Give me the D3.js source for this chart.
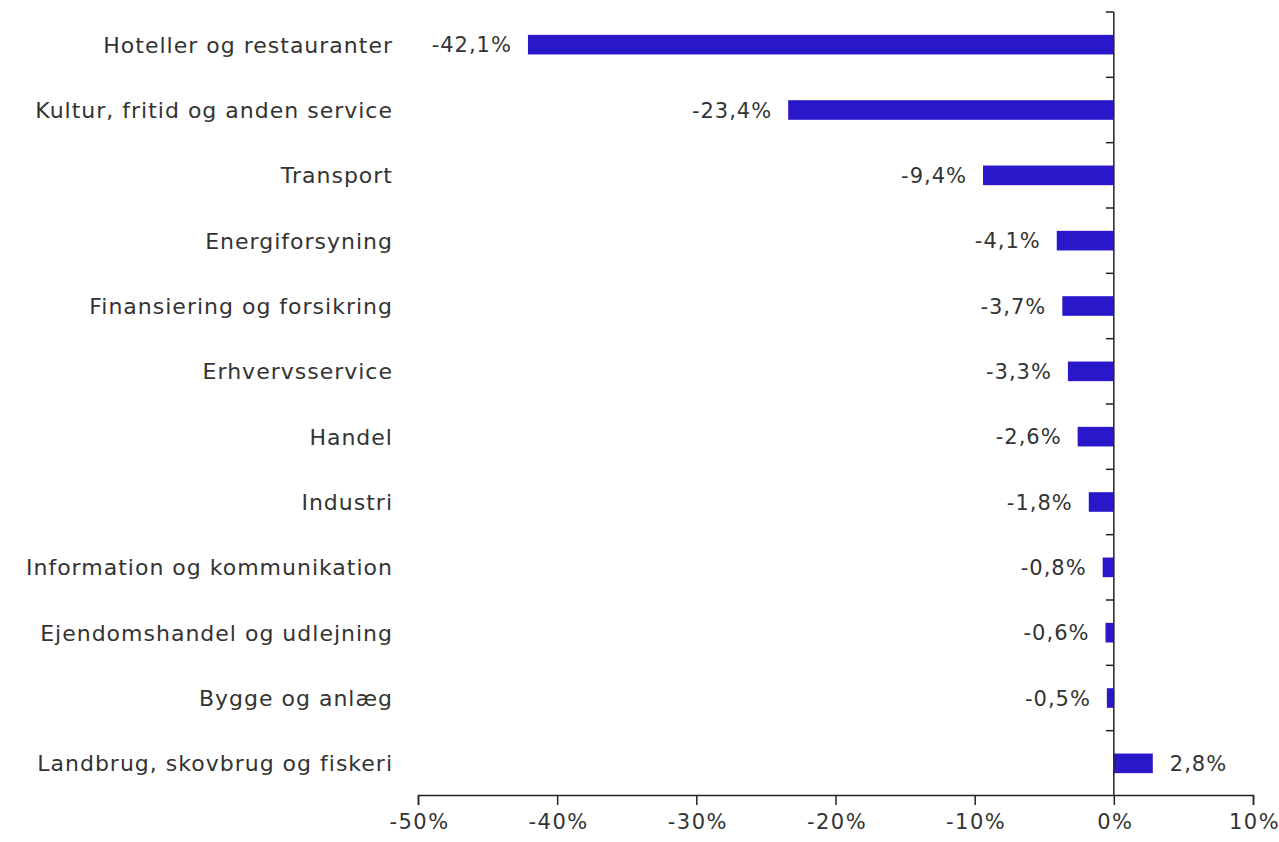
<!DOCTYPE html>
<html lang="da">
<head>
<meta charset="UTF-8">
<title>Brancher</title>
<script src="https://d3js.org/d3.v7.min.js"></script>
<style>
  body { margin: 0; background: #fff; }
  text { font-family: "DejaVu Sans", sans-serif; fill: #333; letter-spacing: 1px; }
</style>
</head>
<body>
<svg width="1279" height="842"></svg>
<script>
// data
var categories = [
  "Hoteller og restauranter",
  "Kultur, fritid og anden service",
  "Transport",
  "Energiforsyning",
  "Finansiering og forsikring",
  "Erhvervsservice",
  "Handel",
  "Industri",
  "Information og kommunikation",
  "Ejendomshandel og udlejning",
  "Bygge og anlæg",
  "Landbrug, skovbrug og fiskeri"
];
var values = [-42.1, -23.4, -9.4, -4.1, -3.7, -3.3, -2.6, -1.8, -0.8, -0.6, -0.5, 2.8];
var xTicks = [-50, -40, -30, -20, -10, 0, 10];

var svg = d3.select("svg");
// danish style: comma decimal, plain hyphen minus
var fmt = function(v) { return (v < 0 ? "-" : "") + Math.abs(v).toFixed(1).replace(".", ",") + "%"; };

var x = d3.scaleLinear().domain([-50, 10]).range([418, 1253]);
var y = d3.scaleBand().domain(categories).range([12, 796]).paddingInner(0.7).paddingOuter(0.35);
var yTicks = d3.scaleBand().domain(categories).range([12, 796]);

// bars
svg.selectAll(".bar")
  .data(values)
  .enter().append("rect")
  .attr("x", function(d) { return x(Math.min(0, d)); })
  .attr("width", function(d) { return Math.abs(x(d) - x(0)); })
  .attr("y", function(d, i) { return y(categories[i]); })
  .attr("height", y.bandwidth())
  .attr("fill", "#2a17c9");

// value labels
svg.selectAll(".val")
  .data(values)
  .enter().append("text")
  .attr("x", function(d) { return d < 0 ? x(d) - 16 : x(d) + 17; })
  .attr("y", function(d, i) { return y(categories[i]) + y.bandwidth() / 2; })
  .attr("dy", "0.36em")
  .attr("text-anchor", function(d) { return d < 0 ? "end" : "start"; })
  .style("font-size", "21px")
  .text(fmt);

// category labels
svg.selectAll(".cat")
  .data(categories)
  .enter().append("text")
  .attr("x", 393)
  .attr("y", function(d) { return y(d) + y.bandwidth() / 2; })
  .attr("dy", "0.36em")
  .attr("text-anchor", "end")
  .style("font-size", "22px")
  .text(function(d) { return d; });

// y axis line with ticks between categories
var yLine = svg.append("g").attr("stroke", "#222").attr("stroke-width", 1.5);
yLine.append("line")
  .attr("x1", x(0)).attr("x2", x(0))
  .attr("y1", 12).attr("y2", 796);
var bounds = categories.map(function(c) { return yTicks(c); });
yLine.selectAll(".yt")
  .data(bounds)
  .enter().append("line")
  .attr("x1", x(0) - 8).attr("x2", x(0))
  .attr("y1", function(d) { return d; })
  .attr("y2", function(d) { return d; });

// x axis
var xAxis = svg.append("g")
  .attr("transform", "translate(0,795)")
  .call(d3.axisBottom(x).tickValues(xTicks).tickSize(10).tickPadding(9)
    .tickFormat(function(d) { return d + "%"; }));
xAxis.select(".domain").attr("stroke", "#222").attr("stroke-width", 1.5);
xAxis.selectAll(".tick line").attr("stroke", "#222").attr("stroke-width", 1.5);
xAxis.selectAll("text")
  .style("font-size", "21px")
  .style("font-family", "DejaVu Sans, sans-serif")
  .style("letter-spacing", "1.5px")
  .attr("dx", "1px")
  .attr("fill", "#333");
</script>
</body>
</html>
